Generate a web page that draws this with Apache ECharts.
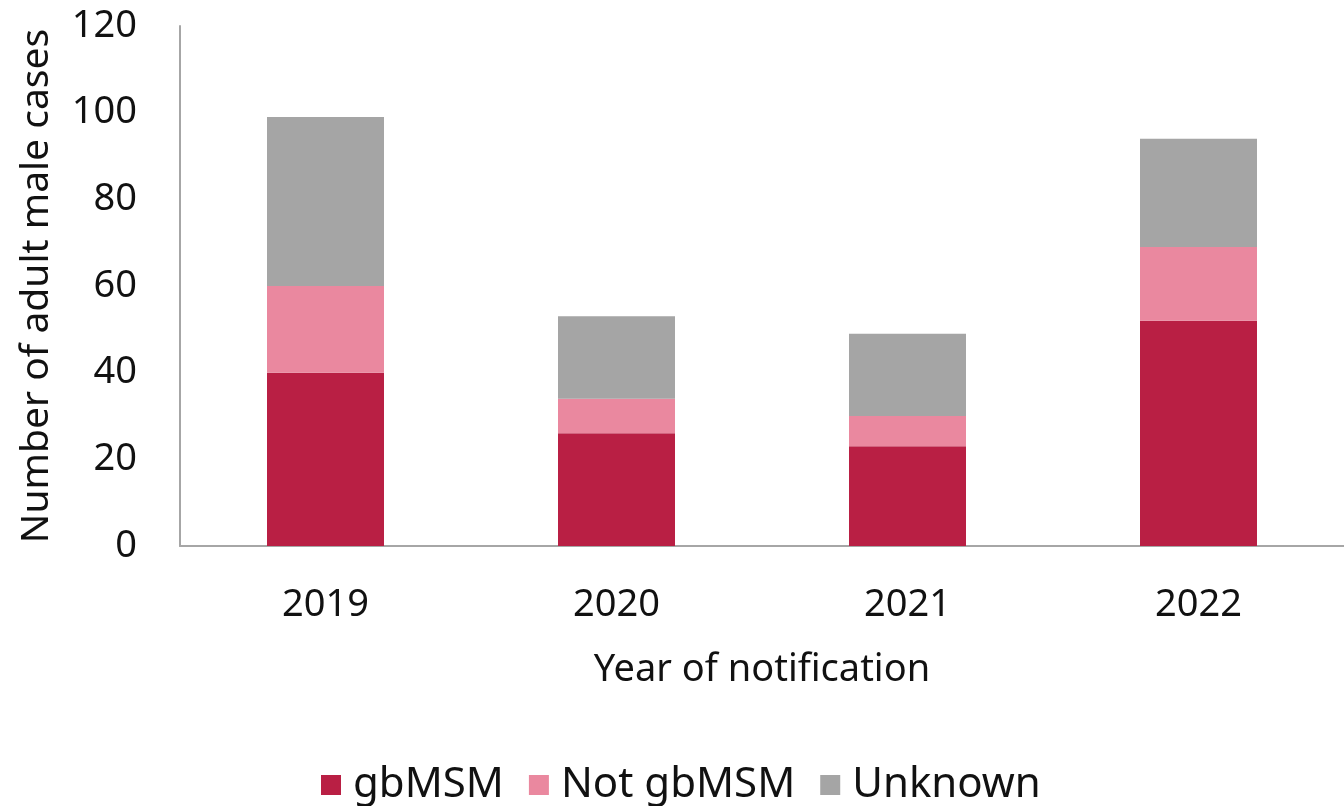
<!DOCTYPE html>
<html>
<head>
<meta charset="utf-8">
<script src="https://cdn.jsdelivr.net/npm/echarts@6/dist/echarts.min.js"></script>
<style>
  html, body { margin: 0; padding: 0; background: #fff; }
  #chart { width: 1344px; height: 806px; }
</style>
</head>
<body>
<div id="chart"></div>
<script>
  // data
  const years = ['2019', '2020', '2021', '2022'];
  const gbMSM = [40, 26, 23, 52];
  const notGbMSM = [20, 8, 7, 17];
  const unknown = [39, 19, 19, 25];
  const yTicks = [0, 20, 40, 60, 80, 100, 120];

  const font = 'Noto Sans';
  const myChart = echarts.init(document.getElementById('chart'));

  const makeSeries = (name, data, color) => ({
    name: name,
    type: 'bar',
    stack: 'total',
    barWidth: 117,
    data: data,
    itemStyle: { color: color },
    emphasis: { disabled: true }
  });

  let option = {
    animation: false,
    textStyle: { fontFamily: font },
    grid: {
      left: 180,
      top: 26,
      width: 1176,
      height: 520,
      containLabel: false
    },
    legend: {
      bottom: 0,
      left: 321,
      padding: 0,
      itemWidth: 20,
      itemHeight: 20,
      itemGap: 25,
      icon: 'rect',
      textStyle: { fontSize: 42, color: '#111', fontFamily: font, padding: [0, 0, 0, 7] },
      data: ['gbMSM', 'Not gbMSM', 'Unknown']
    },
    xAxis: {
      type: 'category',
      data: years,
      name: 'Year of notification',
      nameLocation: 'middle',
      nameGap: 105,
      nameTextStyle: { fontSize: 38, color: '#111' },
      axisLine: { lineStyle: { color: '#a6a6a6', width: 2 } },
      axisTick: { show: false },
      axisLabel: { fontSize: 38, color: '#111', margin: 40 }
    },
    yAxis: {
      type: 'value',
      min: yTicks[0],
      max: yTicks[yTicks.length - 1],
      interval: 20,
      name: 'Number of adult male cases',
      nameLocation: 'middle',
      nameGap: 124,
      nameTextStyle: { fontSize: 39, color: '#111' },
      axisLine: { show: true, lineStyle: { color: '#a6a6a6', width: 2 } },
      axisTick: { show: false },
      splitLine: { show: false },
      axisLabel: { fontSize: 38, color: '#111', margin: 43 }
    },
    series: [
      makeSeries('gbMSM', gbMSM, '#b91f44'),
      makeSeries('Not gbMSM', notGbMSM, '#ea889f'),
      makeSeries('Unknown', unknown, '#a5a5a5')
    ]
  };

  myChart.setOption(option, true);
</script>
</body>
</html>
